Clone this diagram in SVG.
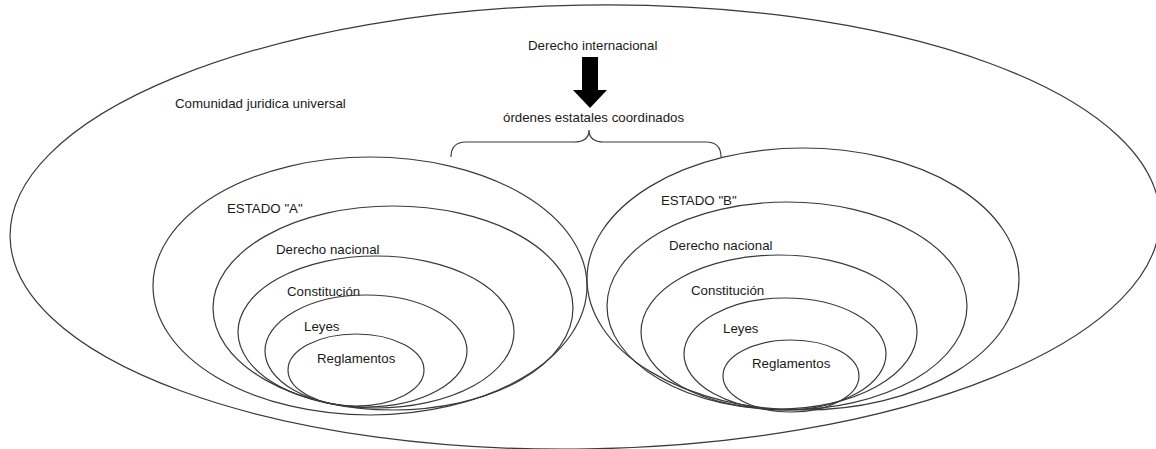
<svg xmlns="http://www.w3.org/2000/svg" width="1156" height="449" viewBox="0 0 1156 449">
  <style>
    .ring { fill: none; stroke: #3a3a3a; stroke-width: 1.2; }
    .lbl { font-family: "Liberation Sans", Arial, sans-serif; font-size: 13.3px; fill: #1a1a1a; }
    .brace { fill: none; stroke: #3a3a3a; stroke-width: 1.2; }
  </style>

  <rect width="1156" height="449" fill="#ffffff"/>

  <!-- Universal legal community -->
  <g id="comunidad">
    <ellipse class="ring" cx="585" cy="227" rx="575" ry="222" transform="rotate(-1 585 227)"/>
    <text class="lbl" x="175" y="108">Comunidad juridica universal</text>
  </g>

  <!-- International law title -->
  <g id="derecho-internacional">
    <text class="lbl" x="528" y="50">Derecho internacional</text>
  </g>

  <!-- Coordinated state orders -->
  <g id="ordenes">
    <text class="lbl" x="503" y="122">órdenes estatales coordinados</text>
  </g>

  <g id="connectors">
    <polygon points="582,57 598,57 598,90 607,90 590,108 573,90 582,90" fill="#000000"/>
    <path class="brace" d="M451,157 Q451,142 466,142 L574,142 Q589,142 589,130 Q589,142 604,142 L706,142 Q721,142 721,157"/>
  </g>

  <!-- State A -->
  <g id="estado-a">
    <ellipse class="ring" cx="370" cy="286" rx="217" ry="129"/>
    <text class="lbl" x="227" y="213">ESTADO "A"</text>
  </g>
  <g id="a-derecho-nacional">
    <ellipse class="ring" cx="393" cy="308" rx="180" ry="102"/>
    <text class="lbl" x="276" y="254">Derecho nacional</text>
  </g>
  <g id="a-constitucion">
    <ellipse class="ring" cx="376" cy="332" rx="138" ry="76"/>
    <text class="lbl" x="287" y="296">Constitución</text>
  </g>
  <g id="a-leyes">
    <ellipse class="ring" cx="366" cy="351" rx="101" ry="56"/>
    <text class="lbl" x="304" y="331">Leyes</text>
  </g>
  <g id="a-reglamentos">
    <ellipse class="ring" cx="356" cy="370" rx="68" ry="36"/>
    <text class="lbl" x="317" y="363">Reglamentos</text>
  </g>

  <!-- State B -->
  <g id="estado-b">
    <ellipse class="ring" cx="803" cy="279" rx="216" ry="131"/>
    <text class="lbl" x="661" y="205">ESTADO "B"</text>
  </g>
  <g id="b-derecho-nacional">
    <ellipse class="ring" cx="787" cy="306" rx="180" ry="104"/>
    <text class="lbl" x="669" y="250">Derecho nacional</text>
  </g>
  <g id="b-constitucion">
    <ellipse class="ring" cx="779" cy="332" rx="138" ry="77"/>
    <text class="lbl" x="691" y="295">Constitución</text>
  </g>
  <g id="b-leyes">
    <ellipse class="ring" cx="785" cy="354" rx="101" ry="56"/>
    <text class="lbl" x="723" y="333">Leyes</text>
  </g>
  <g id="b-reglamentos">
    <ellipse class="ring" cx="791" cy="376" rx="68" ry="36"/>
    <text class="lbl" x="752" y="368">Reglamentos</text>
  </g>
</svg>
